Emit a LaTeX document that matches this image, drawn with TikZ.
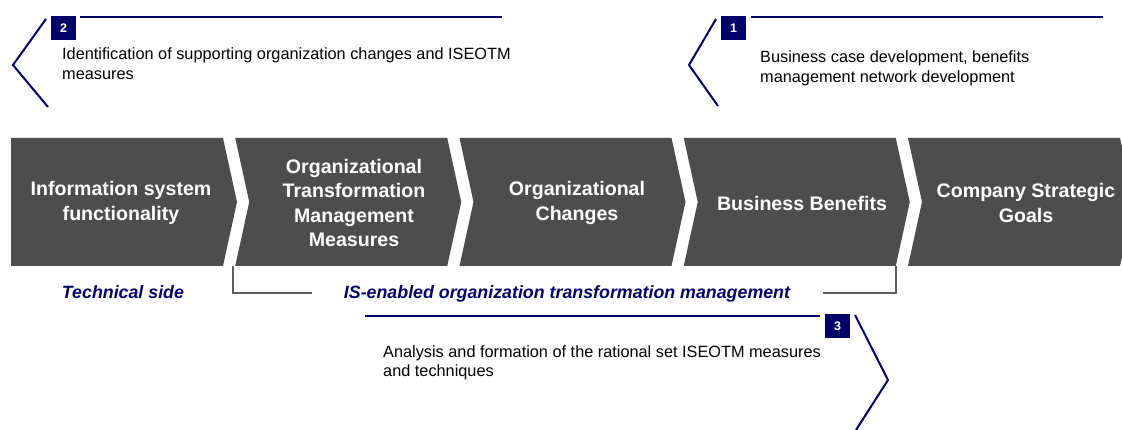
\documentclass[tikz,border=0pt]{standalone}
\usepackage{fontspec}
\setmainfont{Liberation Sans}
\definecolor{navy}{RGB}{0,0,102}
\definecolor{chevgray}{RGB}{77,77,77}
\definecolor{brkgray}{RGB}{95,95,95}
\begin{document}
\begin{tikzpicture}[x=1pt,y=-1pt,
  chevshape/.style={fill=chevgray,draw=none},
  chevtext/.style={text=white,font=\fontsize{19.6}{24.5}\selectfont\bfseries,align=center,inner sep=0pt},
  numbox/.style={fill=navy,text=white,minimum width=25pt,minimum height=24pt,inner sep=0pt,font=\fontsize{12.5}{14}\selectfont\bfseries},
  navyline/.style={draw=navy,line width=2pt},
  calltext/.style={anchor=base west,inner sep=0pt,font=\fontsize{16.3}{19.5}\selectfont},
  sidelabel/.style={anchor=base,inner sep=0pt,text=navy,font=\fontsize{17.8}{20}\selectfont\bfseries\itshape},
  bracketline/.style={draw=brkgray,line width=1.3pt}]
\useasboundingbox (0,0) rectangle (1122,430);
\clip (0,0) rectangle (1122,430);
\fill[white] (0,0) rectangle (1122,430);

% chevrons
\path[chevshape] (11,138) -- (223,138) -- (237,202) -- (223,266) -- (11,266) -- cycle;
\foreach \L in {235.25,459.5,683.75,908} {
  \path[chevshape] (\L,138) -- ({\L+212},138) -- ({\L+226},202) -- ({\L+212},266) -- (\L,266) -- ({\L+14},202) -- cycle;
}
\node[chevtext] (c1) at (121,203) {Information system\\functionality};
\node[chevtext] (c2) at (354,203) {Organizational\\Transformation\\Management\\Measures};
\node[chevtext] (c3) at (577,203) {Organizational\\Changes};
\node[chevtext] (c4) at (802,203) {Business Benefits};
\node[chevtext] (c5) at (1026,203) {Company Strategic\\Goals};

% bottom labels and bracket
\node[sidelabel] (tech) at (123,299) {Technical side};
\node[sidelabel] (isen) at (567,299) {IS-enabled organization transformation management};
\coordinate (bA) at (233,266);
\coordinate (bB) at (312,293);
\coordinate (bC) at (823,293);
\coordinate (bD) at (896,266);
\draw[bracketline] (bA) |- (bB);
\draw[bracketline] (bC) -| (bD);

% callout 2
\node[numbox] (n2) at (63.5,28) {2};
\coordinate (l2a) at (80,17);
\coordinate (l2b) at (502,17);
\draw[navyline] (l2a) -- (l2b);
\coordinate (k2a) at (46,19);
\coordinate (k2b) at (13,65);
\coordinate (k2c) at (48,107);
\draw[navyline] (k2a) -- (k2b) -- (k2c);
\node[calltext] (t2) at (62,60) {\begin{tabular}[t]{@{}l@{}}Identification of supporting organization changes and ISEOTM\\measures\end{tabular}};

% callout 1
\node[numbox] (n1) at (733.5,28.5) {1};
\coordinate (l1a) at (751,17);
\coordinate (l1b) at (1103,17);
\draw[navyline] (l1a) -- (l1b);
\coordinate (k1a) at (716,19);
\coordinate (k1b) at (689,65);
\coordinate (k1c) at (718,106);
\draw[navyline] (k1a) -- (k1b) -- (k1c);
\node[calltext] (t1) at (760,63) {\begin{tabular}[t]{@{}l@{}}Business case development, benefits\\management network development\end{tabular}};

% callout 3
\node[numbox] (n3) at (837.5,326) {3};
\coordinate (l3a) at (365,316);
\coordinate (l3b) at (820,316);
\draw[navyline] (l3a) -- (l3b);
\coordinate (k3a) at (855,315);
\coordinate (k3b) at (888,380);
\coordinate (k3c) at (856,430);
\draw[navyline] (k3a) -- (k3b) -- (k3c);
\node[calltext] (t3) at (383,357) {\begin{tabular}[t]{@{}l@{}}Analysis and formation of the rational set ISEOTM measures\\and techniques\end{tabular}};
\end{tikzpicture}
\end{document}
